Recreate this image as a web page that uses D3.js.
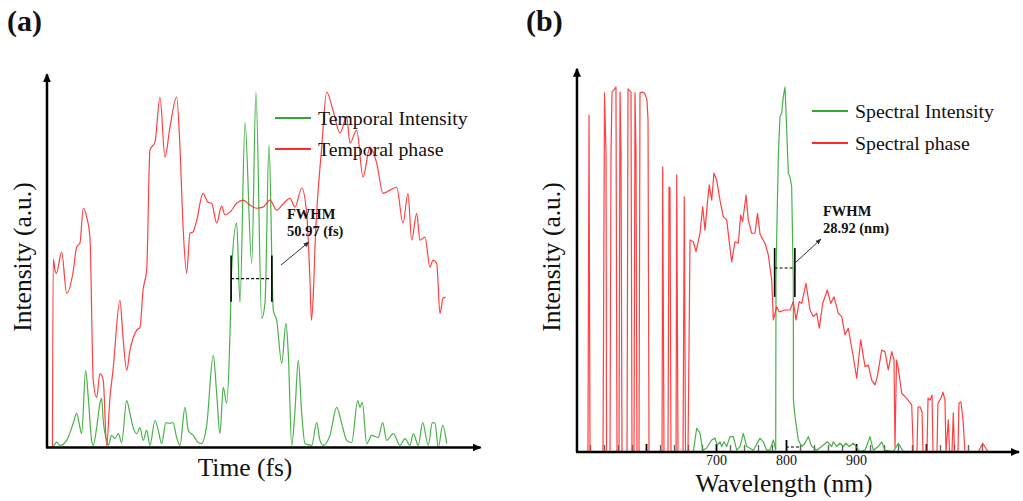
<!DOCTYPE html>
<html>
<head>
<meta charset="utf-8">
<script src="https://cdn.jsdelivr.net/npm/d3@7"></script>
<style>
  html, body { margin: 0; padding: 0; background: #fff; }
  svg { display: block; }
  text { font-family: "Liberation Serif", "Times New Roman", serif; fill: #111; }
</style>
</head>
<body>
<svg id="chart" width="1023" height="501"></svg>
<script>
// ---------- (a) temporal profile: [time (fs), normalised value] ----------
const temporalIntensity = [
  [-248,0.00],[-243.5,0.015],[-239.4,0.006],[-231,0.02],[-222.8,0.068],[-218.5,0.096],[-214.4,0.056],
  [-212.3,0.039],[-207.3,0.217],[-204,0.141],[-199.8,0.02],[-197.8,0.006],[-193.5,0.056],[-189.4,0.124],
  [-187.3,0.138],[-185.3,0.076],[-181,0.02],[-179,0.006],[-174.8,0.034],[-170.6,0.025],[-166.5,0.039],
  [-162.3,0.014],[-156,0.132],[-151.9,0.096],[-147.8,0.056],[-143.5,0.039],[-139.4,0.056],[-135.3,0.02],
  [-131,0.048],[-126.9,0.006],[-120.6,0.076],[-116.5,0.048],[-112.3,0.011],[-106.9,0.07],[-101.9,0.068],
  [-98.1,0.07],[-93.5,0.028],[-89.4,0.006],[-83.1,0.113],[-79,0.048],[-72.8,0.034],[-66.5,0.014],
  [-62.3,0.011],[-56,0.062],[-47.8,0.259],[-43.5,0.152],[-39.4,0.039],[-35.3,0.169],[-31,0.124],
  [-26.9,0.315],[-24.8,0.499],[-18.5,0.631],[-14.4,0.408],[-8.1,0.913],[0.3,0.518],[5.6,1.0],
  [12.8,0.363],[16.9,0.406],[21.9,0.851],[27.3,0.386],[31.5,0.358],[37.8,0.237],[43.1,0.349],
  [46,0.265],[50.3,0.006],[54.4,0.104],[58.5,0.245],[62.8,0.096],[66.9,0.011],[75.3,0.006],
  [81.5,0.07],[85.6,0.02],[89.8,0.006],[98.1,0.034],[106.5,0.113],[112.8,0.068],[119,0.02],
  [125.3,0.014],[132.8,0.132],[135.6,0.113],[138.5,0.127],[144,0.011],[150.3,0.034],[158.5,0.028],
  [164,0.07],[169,0.02],[177.3,0.039],[185.6,0.006],[191.9,0.025],[198.1,0.006],[202.3,0.039],
  [208.5,0.006],[214,0.07],[221,0.006],[226,0.07],[229.4,0.068],[233.5,0],[239,0.062],[244,0.011]
];

const temporalPhase = [
  [-248.8,0],[-247.8,0.53],[-245.6,0.499],[-243.8,0.49],[-237.3,0.55],[-231,0.434],[-223,0.493],
  [-218.5,0.564],[-214.4,0.575],[-210.3,0.673],[-206,0.648],[-201.9,0.592],[-197.8,0.189],[-193.5,0.141],
  [-189.4,0.208],[-185.3,0.189],[-181,0.006],[-176.9,0.141],[-173.1,0.217],[-164.4,0.414],[-160.6,0.31],
  [-156,0.217],[-151.9,0.273],[-143.5,0.33],[-139.4,0.338],[-135.6,0.442],[-131,0.499],[-126.9,0.837],
  [-120.6,0.859],[-114.4,0.986],[-108.1,0.817],[-101.9,0.901],[-93.5,0.986],[-89.4,0.845],[-85.3,0.611],
  [-81,0.49],[-76.9,0.603],[-73.1,0.606],[-68.5,0.639],[-60.6,0.715],[-54.4,0.69],[-49.8,0.687],
  [-43.5,0.631],[-37.3,0.679],[-33.1,0.654],[-26.9,0.662],[-18.5,0.687],[-10.3,0.696],[-1.9,0.682],
  [6.5,0.673],[14.4,0.676],[23.1,0.696],[31.5,0.668],[39.4,0.685],[48.1,0.701],[54.4,0.676],
  [62.8,0.73],[69,0.659],[73.1,0.47],[75,0.358],[77.5,0.442],[79.4,0.563],[87.8,0.845],[94,1.0],
  [101.9,0.949],[110.6,0.885],[119,0.93],[123.1,0.856],[131.5,0.893],[139.4,0.761],[148.1,0.845],
  [156.5,0.8],[164.4,0.715],[173.1,0.724],[181.5,0.732],[189.4,0.631],[195.6,0.715],[200.3,0.583],
  [206.5,0.659],[210.6,0.583],[216.9,0.592],[223.1,0.507],[226.9,0.527],[231.5,0.518],[235.6,0.377],
  [239.4,0.42],[242.6,0.423]
];

// ---------- (b) spectral profile: [wavelength (nm), normalised value] ----------
const spectralIntensity = [
  [667.6,0.001],[672.4,0.065],[677.1,0.052],[681,0.005],[686.7,0.011],[693.9,0.033],[698.6,0.038],
  [701.9,0.019],[705.7,0.028],[708.1,0.015],[711.4,0.028],[715.3,0.015],[720,0.042],[724.7,0.042],
  [729.6,0.005],[734.3,0.015],[739,0.051],[743.9,0.015],[753.3,0.005],[762.9,0.038],[767.6,0.028],
  [772.4,0.005],[777.1,0.005],[781.9,0.033],[785.3,0.005],[785.7,0.471],[786.7,0.59],[789,0.809],
  [791.4,0.919],[793.9,0.928],[796.1,0.973],[798.6,1.0],[801,0.882],[803.3,0.764],[805.7,0.754],
  [808.1,0.727],[809.6,0.562],[810.4,0.471],[810.6,0.142],[812.9,0.097],[817.6,0.033],[822.4,0.015],
  [827.1,0.024],[831.9,0.042],[836.7,0.015],[843.9,0.005],[851,0.015],[859,0.028],[865.3,0.015],
  [867.6,0.028],[872.4,0.015],[877.1,0.024],[881.9,0.015],[885.7,0.024],[890.4,0.015],[896.1,0.024],
  [905.7,0.001],[912.9,0.005],[920,0.042],[924.7,0.005],[931.9,0.015],[936.7,0.028],[941.4,0.005],
  [953.3,0.001],[960.4,0.024],[967.6,0.001],[1105.7,0]
];

const spectralPhase = [
  [517.1,0],[518.6,0.923],[520,0],
  [538.6,0],[540.7,0.984],[542.9,0.814],[543.6,0],
  [548.6,0],[550,0.814],[551.4,0.986],[554.3,0.992],[557.1,1.0],[558.6,0],
  [561.4,0],[562.9,0.986],[564.3,0.819],[565.7,0],
  [572.9,0],[574.3,0.995],[578.6,0.986],[580,0],
  [582.9,0],[584.3,0.984],[585.7,0.827],[587.1,0],
  [590,0],[591.4,0.984],[595.7,0.986],[598.6,0.981],[601.4,0.964],[602.9,0.91],[604.3,0],
  [622.9,0],[623.9,0.781],[625.7,0],
  [631.4,0],[632.9,0.726],[634.3,0.723],[635.7,0],
  [642.9,0],[643.9,0.759],[645.7,0],
  [652.9,0],[654.7,0.699],[656.4,0],
  [660,0],[662.9,0.581],[667.6,0.576],[671.4,0.549],[677.1,0.599],[681,0.672],[684.3,0.608],
  [687.6,0.681],[690.4,0.732],[693.9,0.69],[697.1,0.764],[701,0.745],[705.7,0.69],[710.4,0.645],
  [715.3,0.636],[718.6,0.581],[722.4,0.521],[727.1,0.576],[731.9,0.572],[735.3,0.649],[738.1,0.631],
  [742.9,0.704],[746.1,0.636],[751,0.599],[755.7,0.6],[759.3,0.654],[762.9,0.597],[770,0.572],
  [774.7,0.54],[779.6,0.471],[781.9,0.362],[786.7,0.398],[790.4,0.384],[798.6,0.389],[805.7,0.389],
  [810.4,0.412],[814.3,0.362],[819,0.412],[822.4,0.407],[828.6,0.462],[834.3,0.389],[839,0.371],
  [843.9,0.38],[847.6,0.339],[852.4,0.407],[859,0.444],[863.9,0.407],[868.6,0.425],[874.7,0.38],
  [879.6,0.371],[884.3,0.321],[889,0.339],[896.1,0.261],[901,0.202],[906.7,0.307],[912.9,0.234],
  [917.6,0.238],[922.4,0.197],[927.1,0.184],[930.4,0.206],[936.7,0.279],[941.4,0.275],[946.1,0.225],
  [951,0.275],[954.3,0.252],[955.7,0.014],[957.9,0.252],[960.4,0.229],[965.3,0.161],[972.4,0.147],
  [979.6,0.129],[981.9,0],
  [987.1,0],[988.6,0.123],[991.4,0.124],[994.3,0.11],[995.7,0],
  [1001.4,0],[1002.9,0.148],[1005.7,0.142],[1008.6,0.156],[1010,0],
  [1015.7,0],[1017.1,0.134],[1021.4,0.148],[1024.3,0.164],[1027.1,0.142],[1028.6,0],
  [1031.9,0.088],[1033.6,0],
  [1037.1,0],[1039,0.107],[1040.7,0],
  [1045.7,0],[1047.1,0.134],[1050,0.137],[1052.9,0.088],[1055.7,0],
  [1074.7,0],[1081,0.024],[1089,0],[1105.7,0]
];

// Wavelength axis ticks (nm) and the ones that carry a label
const wavelengthTicks = d3.range(520, 1090, 20);
const wavelengthLabels = [700, 800, 900];

// Pulse widths
const temporalFWHM = 50.97;   // fs
const spectralFWHM = 28.92;   // nm

// ---------- colours ----------
const GREEN = "#34a834";
const RED = "#ff2b2b";

const svg = d3.select("#chart");
const defs = svg.append("defs");

defs.append("marker")
  .attr("id", "axisHead")
  .attr("viewBox", "0 0 10 10")
  .attr("refX", 9).attr("refY", 5)
  .attr("markerUnits", "userSpaceOnUse")
  .attr("markerWidth", 9).attr("markerHeight", 9)
  .attr("orient", "auto")
  .append("path").attr("d", "M0,0.5 L10,5 L0,9.5 Z").attr("fill", "#000");

defs.append("marker")
  .attr("id", "noteHead")
  .attr("viewBox", "0 0 10 10")
  .attr("refX", 9).attr("refY", 5)
  .attr("markerUnits", "userSpaceOnUse")
  .attr("markerWidth", 6).attr("markerHeight", 6)
  .attr("orient", "auto")
  .append("path").attr("d", "M0,1 L10,5 L0,9 Z").attr("fill", "#333");

// ---------- scales ----------
const xA = d3.scaleLinear().domain([-255.6, 286.4]).range([47, 480.6]);
const yA = d3.scaleLinear().domain([0, 1]).range([447.5, 92]);

const xB = d3.scaleLinear().domain([700, 800]).range([716, 786]);
const yB = d3.scaleLinear().domain([0, 1]).range([452, 87]);
const xBmin = 501.4, xBmax = 1132.9;

function curve(g, data, xs, ys, color, smooth) {
  g.append("path")
    .datum(data)
    .attr("fill", "none")
    .attr("stroke", color)
    .attr("stroke-width", 1.2)
    .attr("stroke-linejoin", "round")
    .attr("stroke-opacity", 0.9)
    .attr("d", d3.line()
      .curve(smooth ? d3.curveMonotoneX : d3.curveLinear)
      .x(d => xs(d[0])).y(d => ys(d[1])));
}

function legend(g, x, y, color, label) {
  g.append("line")
    .attr("x1", x).attr("x2", x + 36).attr("y1", y).attr("y2", y)
    .attr("stroke", color).attr("stroke-width", 1.8);
  g.append("text")
    .attr("x", x + 43).attr("y", y + 7)
    .attr("font-size", 19.8)
    .text(label);
}

function fwhmBracket(g, x0, x1, yTop, yBot, yMid) {
  g.append("line").attr("x1", x0).attr("x2", x0).attr("y1", yTop).attr("y2", yBot)
    .attr("stroke", "#000").attr("stroke-width", 1.6);
  g.append("line").attr("x1", x1).attr("x2", x1).attr("y1", yTop).attr("y2", yBot)
    .attr("stroke", "#000").attr("stroke-width", 1.6);
  g.append("line").attr("x1", x0).attr("x2", x1).attr("y1", yMid).attr("y2", yMid)
    .attr("stroke", "#000").attr("stroke-width", 1.1).attr("stroke-dasharray", "3,2");
}

function note(g, x, y, lines) {
  lines.forEach((t, i) => {
    g.append("text")
      .attr("x", x).attr("y", y + i * 17)
      .attr("font-size", 14.5).attr("font-weight", "bold")
      .text(t);
  });
}

// ================= panel (a) =================
const gA = svg.append("g");

curve(gA, temporalIntensity, xA, yA, GREEN, true);
curve(gA, temporalPhase, xA, yA, RED, true);

// axes with arrow heads
gA.append("line")
  .attr("x1", xA.range()[0]).attr("y1", yA(0))
  .attr("x2", xA.range()[0]).attr("y2", yA(1.05))
  .attr("stroke", "#000").attr("stroke-width", 2.5).attr("marker-end", "url(#axisHead)");
gA.append("line")
  .attr("x1", xA.range()[0] - 1).attr("y1", yA(0))
  .attr("x2", xA.range()[1]).attr("y2", yA(0))
  .attr("stroke", "#000").attr("stroke-width", 2.5).attr("marker-end", "url(#axisHead)");

// FWHM marker
fwhmBracket(gA, xA(-temporalFWHM / 2), xA(temporalFWHM / 2), yA(0.54), yA(0.41), yA(0.475));
gA.append("line")
  .attr("x1", 281).attr("y1", 265).attr("x2", 309).attr("y2", 242)
  .attr("stroke", "#333").attr("stroke-width", 1).attr("marker-end", "url(#noteHead)");
note(gA, 287, 219, ["FWHM", temporalFWHM.toFixed(2) + " (fs)"]);

legend(gA, 275, 118, GREEN, "Temporal Intensity");
legend(gA, 275, 149, RED, "Temporal phase");

gA.append("text")
  .attr("transform", "translate(31,257) rotate(-90)")
  .attr("text-anchor", "middle").attr("font-size", 25.5)
  .text("Intensity (a.u.)");
gA.append("text")
  .attr("x", 245).attr("y", 476)
  .attr("text-anchor", "middle").attr("font-size", 25.5)
  .text("Time (fs)");
gA.append("text")
  .attr("x", 7).attr("y", 31)
  .attr("font-size", 30).attr("font-weight", "bold")
  .text("(a)");

// ================= panel (b) =================
const gB = svg.append("g");

// inward ticks along the wavelength axis
const axisB = d3.axisBottom(xB)
  .tickValues(wavelengthTicks)
  .tickSizeInner(-7).tickSizeOuter(0).tickPadding(3)
  .tickFormat(d => wavelengthLabels.includes(d) ? d3.format("d")(d) : "");
const axG = gB.append("g").attr("transform", `translate(0,${yB(0)})`).call(axisB);
axG.select(".domain").remove();
axG.selectAll(".tick line")
  .attr("stroke", d => d % 100 === 0 ? "#000" : "#666")
  .attr("stroke-width", d => d % 100 === 0 ? 1.8 : 1.4)
  .attr("y2", d => d === 800 ? -12 : (d % 100 === 0 ? -8 : -7));
axG.selectAll(".tick text").filter(d => !wavelengthLabels.includes(d)).remove();
axG.selectAll(".tick text")
  .attr("font-family", '"Liberation Serif", "Times New Roman", serif')
  .attr("font-size", 14).attr("fill", "#222");
// short dashed mark next to the 800 nm tick
gB.append("line")
  .attr("x1", xB(800)).attr("x2", xB(820)).attr("y1", yB(0) - 5).attr("y2", yB(0) - 5)
  .attr("stroke", "#000").attr("stroke-width", 1).attr("stroke-dasharray", "3,2");

curve(gB, spectralIntensity, xB, yB, GREEN, false);
curve(gB, spectralPhase, xB, yB, RED, false);

gB.append("line")
  .attr("x1", xB(xBmin)).attr("y1", yB(0))
  .attr("x2", xB(xBmin)).attr("y2", yB(1.05))
  .attr("stroke", "#000").attr("stroke-width", 2.5).attr("marker-end", "url(#axisHead)");
gB.append("line")
  .attr("x1", xB(xBmin) - 1).attr("y1", yB(0))
  .attr("x2", xB(xBmax)).attr("y2", yB(0))
  .attr("stroke", "#000").attr("stroke-width", 2.5).attr("marker-end", "url(#axisHead)");

const specCentre = 798.2;
fwhmBracket(gB, xB(specCentre - spectralFWHM / 2), xB(specCentre + spectralFWHM / 2),
  yB(0.559), yB(0.425), yB(0.504));
gB.append("line")
  .attr("x1", 795).attr("y1", 263).attr("x2", 821).attr("y2", 239)
  .attr("stroke", "#333").attr("stroke-width", 1).attr("marker-end", "url(#noteHead)");
note(gB, 823, 216, ["FWHM", spectralFWHM.toFixed(2) + " (nm)"]);

legend(gB, 812, 111, GREEN, "Spectral Intensity");
legend(gB, 812, 143, RED, "Spectral phase");

gB.append("text")
  .attr("transform", "translate(560,257) rotate(-90)")
  .attr("text-anchor", "middle").attr("font-size", 25.5)
  .text("Intensity (a.u.)");
gB.append("text")
  .attr("x", 784).attr("y", 492)
  .attr("text-anchor", "middle").attr("font-size", 25.5)
  .text("Wavelength (nm)");
gB.append("text")
  .attr("x", 526).attr("y", 31)
  .attr("font-size", 30).attr("font-weight", "bold")
  .text("(b)");
</script>
</body>
</html>
